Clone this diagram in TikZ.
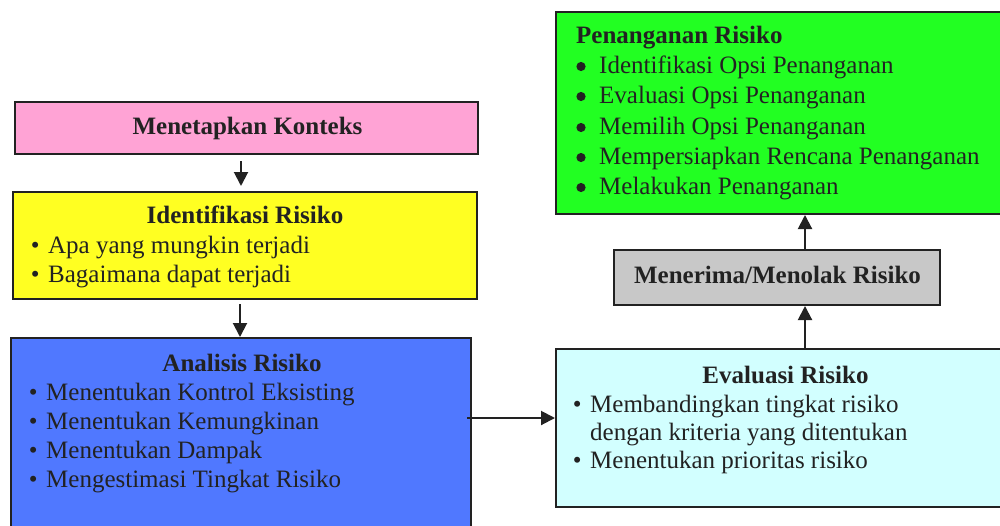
\documentclass[tikz,border=0pt]{standalone}
\usepackage{fontspec}
\setmainfont{Liberation Serif}
\usetikzlibrary{arrows.meta}
\definecolor{pinkc}{HTML}{FFA3D5}
\definecolor{yellowc}{HTML}{FFFF22}
\definecolor{bluec}{HTML}{5078FF}
\definecolor{cyanc}{HTML}{D2FFFF}
\definecolor{grayc}{HTML}{C8C8C8}
\definecolor{greenc}{HTML}{22FF22}
\definecolor{linec}{HTML}{222222}
\newcommand{\bul}{\makebox[17.4pt][l]{•}}
\begin{document}
\begin{tikzpicture}[x=1pt,y=-1pt,
  box/.style={draw=linec, line width=2pt, inner sep=0pt, rectangle},
  txt/.style={text=linec, font={\fontsize{25}{30}\selectfont}, inner sep=0pt},
  ttl/.style={text=linec, font={\fontsize{25}{30}\selectfont\bfseries}, inner sep=0pt},
  bigdot/.style={fill=linec},
  arr/.style={draw=linec, line width=2pt, -{Triangle[length=14pt,width=14pt]}}]
\useasboundingbox (0,0) rectangle (1000,525);
\begin{scope}
\clip (0,0) rectangle (1000,525);
% boxes
\node[box, fill=pinkc, minimum width=463pt, minimum height=52pt] (konteks) at (246.5,128) {};
\node[box, fill=yellowc, minimum width=464pt, minimum height=107pt] (ident) at (245,245.5) {};
\node[box, fill=bluec, minimum width=460pt, minimum height=222pt] (analisis) at (241,449) {};
\node[box, fill=cyanc, minimum width=454pt, minimum height=158pt] (eval) at (783,428) {};
\node[box, fill=grayc, minimum width=326pt, minimum height=55pt] (terima) at (777,277.5) {};
\node[box, fill=greenc, minimum width=454pt, minimum height=202pt] (tangan) at (783,113) {};
% texts
\node[ttl, anchor=base] (tkonteks) at (247.5,134) {Menetapkan Konteks};
\node[ttl, anchor=base] (tident) at (245,223) {Identifikasi Risiko};
\node[txt, anchor=base west] (i1) at (30.6,253) {\bul Apa yang mungkin terjadi};
\node[txt, anchor=base west] (i2) at (30.6,282) {\bul Bagaimana dapat terjadi};
\node[ttl, anchor=base] (tanalisis) at (242,371) {Analisis Risiko};
\node[txt, anchor=base west] (a1) at (28.6,400) {\bul Menentukan Kontrol Eksisting};
\node[txt, anchor=base west] (a2) at (28.6,429) {\bul Menentukan Kemungkinan};
\node[txt, anchor=base west] (a3) at (28.6,458) {\bul Menentukan Dampak};
\node[txt, anchor=base west] (a4) at (28.6,487) {\bul Mengestimasi Tingkat Risiko};
\node[ttl, anchor=base] (teval) at (785.5,383) {Evaluasi Risiko};
\node[txt, anchor=base west] (e1) at (572.6,412) {\bul Membandingkan tingkat risiko};
\node[txt, anchor=base west] (e2) at (590,440) {dengan kriteria yang ditentukan};
\node[txt, anchor=base west] (e3) at (572.6,468) {\bul Menentukan prioritas risiko};
\node[ttl, anchor=base] (tterima) at (777.5,283) {Menerima/Menolak Risiko};
\node[ttl, anchor=base west] (ttangan) at (576,43) {Penanganan Risiko};
\node[txt, anchor=base west] (p1) at (599,73) {Identifikasi Opsi Penanganan};
\node[txt, anchor=base west] (p2) at (599,103) {Evaluasi Opsi Penanganan};
\node[txt, anchor=base west] (p3) at (599,134) {Memilih Opsi Penanganan};
\node[txt, anchor=base west] (p4) at (599,164) {Mempersiapkan Rencana Penanganan};
\node[txt, anchor=base west] (p5) at (599,194) {Melakukan Penanganan};
\foreach \n in {p1,p2,p3,p4,p5}
  \fill[bigdot] ([xshift=-18pt,yshift=6.5pt]\n.base west) circle (4.6pt);
% connectors
\draw[arr] ([xshift=-5.5pt,yshift=-6pt]konteks.south) -- ([xshift=-4pt,yshift=5pt]ident.north);
\draw[arr] ([xshift=-5pt,yshift=-4pt]ident.south) -- ([xshift=-1pt]analisis.north);
\draw[arr] ([xshift=-5pt,yshift=31pt]analisis.east) -- ([yshift=10pt]eval.west);
\coordinate (ax) at ([xshift=28pt]terima.south);
\draw[arr] (eval.north -| ax) -- (ax);
\draw[arr] ([xshift=28pt]terima.north) -- (tangan.south -| ax);
\end{scope}
\end{tikzpicture}
\end{document}
